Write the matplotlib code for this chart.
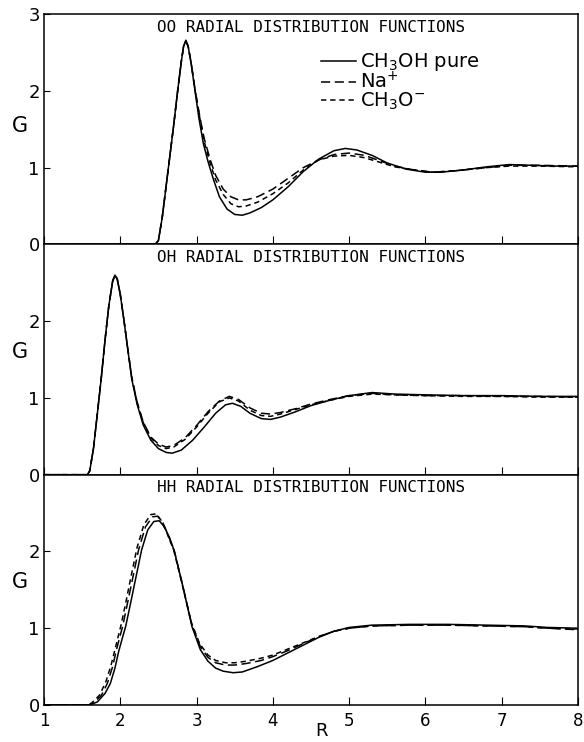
import matplotlib
matplotlib.use("Agg")
import matplotlib.pyplot as plt

# OO radial distribution functions
oo_r_pure = [1.0, 2.46, 2.50, 2.55, 2.60, 2.65, 2.70, 2.75, 2.80, 2.83, 2.86, 2.89, 2.93, 2.98, 3.03, 3.09,
             3.15, 3.22, 3.30, 3.40, 3.50, 3.60, 3.70, 3.85, 4.00, 4.20, 4.40, 4.60, 4.80, 4.95, 5.10, 5.30,
             5.50, 5.75, 6.00, 6.20, 6.50, 6.80, 7.10, 7.40, 7.70, 8.00]
oo_g_pure = [0.0, 0.0, 0.05, 0.35, 0.75, 1.15, 1.55, 1.98, 2.38, 2.58, 2.66, 2.58, 2.35, 2.00, 1.65, 1.31,
             1.08, 0.85, 0.62, 0.46, 0.39, 0.38, 0.41, 0.48, 0.58, 0.75, 0.95, 1.11, 1.22, 1.25, 1.23, 1.16,
             1.06, 0.98, 0.94, 0.94, 0.97, 1.01, 1.04, 1.03, 1.02, 1.02]
oo_r_ion = [1.0, 2.46, 2.50, 2.55, 2.60, 2.65, 2.70, 2.75, 2.80, 2.83, 2.86, 2.89, 2.93, 2.98, 3.04, 3.10,
            3.18, 3.25, 3.35, 3.45, 3.55, 3.65, 3.80, 4.00, 4.20, 4.40, 4.60, 4.80, 5.00, 5.20, 5.40, 5.60,
            5.85, 6.10, 6.40, 6.80, 7.10, 7.50, 8.00]
oo_g_na = [0.0, 0.0, 0.05, 0.35, 0.75, 1.15, 1.55, 1.98, 2.38, 2.58, 2.65, 2.58, 2.36, 2.02, 1.68, 1.38,
           1.10, 0.90, 0.72, 0.62, 0.58, 0.58, 0.62, 0.72, 0.86, 1.00, 1.10, 1.17, 1.19, 1.16, 1.09, 1.02,
           0.97, 0.94, 0.96, 1.00, 1.03, 1.03, 1.02]
oo_g_meo = [0.0, 0.0, 0.05, 0.35, 0.75, 1.15, 1.55, 1.98, 2.38, 2.58, 2.65, 2.58, 2.36, 2.01, 1.66, 1.34,
            1.05, 0.84, 0.65, 0.53, 0.49, 0.50, 0.55, 0.66, 0.80, 0.97, 1.10, 1.15, 1.16, 1.13, 1.07, 1.01,
            0.97, 0.94, 0.96, 1.00, 1.02, 1.02, 1.01]

# OH radial distribution functions
oh_r_pure = [1.0, 1.57, 1.60, 1.65, 1.70, 1.75, 1.80, 1.85, 1.90, 1.93, 1.96, 2.00, 2.05, 2.10, 2.15, 2.22,
             2.30, 2.40, 2.50, 2.60, 2.68, 2.80, 2.95, 3.10, 3.25, 3.38, 3.47, 3.58, 3.70, 3.85, 3.97, 4.10,
             4.30, 4.50, 4.75, 5.00, 5.30, 5.60, 6.00, 6.50, 7.00, 7.50, 8.00]
oh_g_pure = [0.0, 0.0, 0.05, 0.35, 0.80, 1.25, 1.75, 2.20, 2.52, 2.60, 2.55, 2.35, 2.00, 1.62, 1.25, 0.92,
             0.65, 0.45, 0.34, 0.29, 0.28, 0.32, 0.45, 0.62, 0.80, 0.91, 0.93, 0.89, 0.80, 0.73, 0.72, 0.75,
             0.82, 0.90, 0.97, 1.03, 1.07, 1.05, 1.04, 1.03, 1.03, 1.02, 1.02]
oh_r_ion = [1.0, 1.57, 1.60, 1.65, 1.70, 1.75, 1.80, 1.85, 1.90, 1.93, 1.96, 2.00, 2.05, 2.10, 2.15, 2.22,
            2.30, 2.40, 2.50, 2.60, 2.70, 2.85, 3.00, 3.15, 3.30, 3.43, 3.55, 3.70, 3.85, 3.97, 4.10, 4.30,
            4.50, 4.75, 5.00, 5.30, 5.60, 6.00, 6.50, 7.00, 7.50, 8.00]
oh_g_na = [0.0, 0.0, 0.05, 0.35, 0.80, 1.25, 1.75, 2.20, 2.52, 2.60, 2.55, 2.35, 2.00, 1.63, 1.27, 0.95,
           0.69, 0.49, 0.40, 0.36, 0.38, 0.48, 0.64, 0.82, 0.96, 1.02, 0.98, 0.87, 0.80, 0.79, 0.81, 0.86,
           0.92, 0.98, 1.03, 1.06, 1.04, 1.03, 1.03, 1.02, 1.02, 1.01]
oh_g_meo = [0.0, 0.0, 0.05, 0.35, 0.80, 1.25, 1.75, 2.20, 2.52, 2.60, 2.55, 2.35, 2.00, 1.63, 1.27, 0.94,
            0.68, 0.48, 0.38, 0.34, 0.36, 0.46, 0.62, 0.80, 0.95, 1.00, 0.96, 0.84, 0.77, 0.76, 0.79, 0.85,
            0.91, 0.97, 1.02, 1.05, 1.04, 1.03, 1.02, 1.02, 1.01, 1.01]

# HH radial distribution functions
hh_r_pure = [1.0, 1.60, 1.70, 1.80, 1.87, 1.93, 1.98, 2.03, 2.07, 2.13, 2.19, 2.28, 2.36, 2.44, 2.51, 2.58,
             2.65, 2.71, 2.81, 2.94, 3.05, 3.15, 3.25, 3.35, 3.48, 3.60, 3.80, 4.00, 4.20, 4.40, 4.60, 4.80,
             5.00, 5.30, 5.80, 6.30, 6.80, 7.30, 7.60, 8.00]
hh_g_pure = [0.0, 0.0, 0.04, 0.15, 0.28, 0.48, 0.70, 0.88, 1.02, 1.30, 1.59, 2.02, 2.28, 2.39, 2.40, 2.32,
             2.17, 2.00, 1.59, 1.02, 0.72, 0.57, 0.48, 0.44, 0.42, 0.43, 0.50, 0.58, 0.68, 0.78, 0.88, 0.96,
             1.01, 1.04, 1.05, 1.05, 1.04, 1.03, 1.01, 1.00]
hh_r_na = [1.0, 1.60, 1.65, 1.75, 1.83, 1.90, 1.95, 2.03, 2.10, 2.15, 2.24, 2.33, 2.42, 2.49, 2.56, 2.64,
           2.71, 2.81, 2.94, 3.05, 3.15, 3.25, 3.38, 3.50, 3.65, 3.85, 4.00, 4.20, 4.40, 4.60, 4.80, 5.00,
           5.30, 5.80, 6.30, 6.80, 7.30, 7.60, 8.00]
hh_g_na = [0.0, 0.0, 0.03, 0.12, 0.28, 0.50, 0.72, 1.02, 1.35, 1.59, 2.02, 2.32, 2.45, 2.46, 2.37, 2.18,
           2.00, 1.59, 1.04, 0.76, 0.62, 0.55, 0.52, 0.52, 0.54, 0.58, 0.63, 0.71, 0.80, 0.89, 0.96, 1.00,
           1.03, 1.04, 1.04, 1.03, 1.02, 1.00, 0.98]
hh_r_meo = [1.0, 1.58, 1.63, 1.73, 1.81, 1.88, 1.94, 2.01, 2.08, 2.13, 2.22, 2.31, 2.40, 2.47, 2.54, 2.62,
            2.70, 2.80, 2.93, 3.04, 3.15, 3.25, 3.38, 3.50, 3.65, 3.85, 4.00, 4.20, 4.40, 4.60, 4.80, 5.00,
            5.30, 5.80, 6.30, 6.80, 7.30, 7.60, 8.00]
hh_g_meo = [0.0, 0.0, 0.03, 0.13, 0.30, 0.52, 0.76, 1.04, 1.37, 1.62, 2.05, 2.35, 2.48, 2.49, 2.40, 2.22,
            2.02, 1.62, 1.08, 0.80, 0.65, 0.58, 0.55, 0.55, 0.57, 0.61, 0.65, 0.73, 0.81, 0.89, 0.96, 1.00,
            1.03, 1.04, 1.04, 1.03, 1.02, 1.00, 0.99]

titles = ["OO RADIAL DISTRIBUTION FUNCTIONS", "OH RADIAL DISTRIBUTION FUNCTIONS",
          "HH RADIAL DISTRIBUTION FUNCTIONS"]
labels = ["CH$_3$OH pure", "Na$^{+}$", "CH$_3$O$^{-}$"]
x_ticks = [1, 2, 3, 4, 5, 6, 7, 8]

panels = [
    [(oo_r_pure, oo_g_pure), (oo_r_ion, oo_g_na), (oo_r_ion, oo_g_meo)],
    [(oh_r_pure, oh_g_pure), (oh_r_ion, oh_g_na), (oh_r_ion, oh_g_meo)],
    [(hh_r_pure, hh_g_pure), (hh_r_na, hh_g_na), (hh_r_meo, hh_g_meo)],
]

styles = [dict(linestyle="-"), dict(dashes=(6, 3)), dict(dashes=(3.5, 2.5))]

fig, axes = plt.subplots(3, 1, sharex=True, figsize=(5.84, 7.42), dpi=100)
fig.subplots_adjust(left=0.0753, right=0.9897, top=0.981, bottom=0.0499, hspace=0)

for i, ax in enumerate(axes):
    for (r, g), st, lab in zip(panels[i], styles, labels):
        ax.plot(r, g, color="black", lw=1.1, label=lab, **st)
    ax.set_xlim(1, 8)
    ax.set_ylim(0, 3)
    ax.set_yticks([0, 1, 2, 3] if i == 0 else [0, 1, 2])
    ax.tick_params(axis="y", direction="in", length=4, pad=3, labelsize=13)
    ax.tick_params(axis="x", direction="in", length=6, pad=5, labelsize=12)
    ax.text(0.5, 0.975, titles[i], transform=ax.transAxes, ha="center", va="top",
            family="DejaVu Sans Mono", fontsize=11.5)
    ax.set_ylabel("G", rotation=0, fontsize=15)
    ax.yaxis.set_label_coords(-0.045, 0.47 if i == 0 else 0.49)
    for s in ax.spines.values():
        s.set_linewidth(1.1)

axes[-1].set_xticks(x_ticks)
axes[-1].set_xlabel("R", fontsize=13)
axes[-1].xaxis.set_label_coords(0.52, -0.075)

axes[0].legend(loc="upper left", bbox_to_anchor=(0.5, 0.88), frameon=False, fontsize=14,
               handlelength=1.8, handletextpad=0.2, labelspacing=-0.1, borderpad=0)

fig.savefig("out.png", dpi=100)
